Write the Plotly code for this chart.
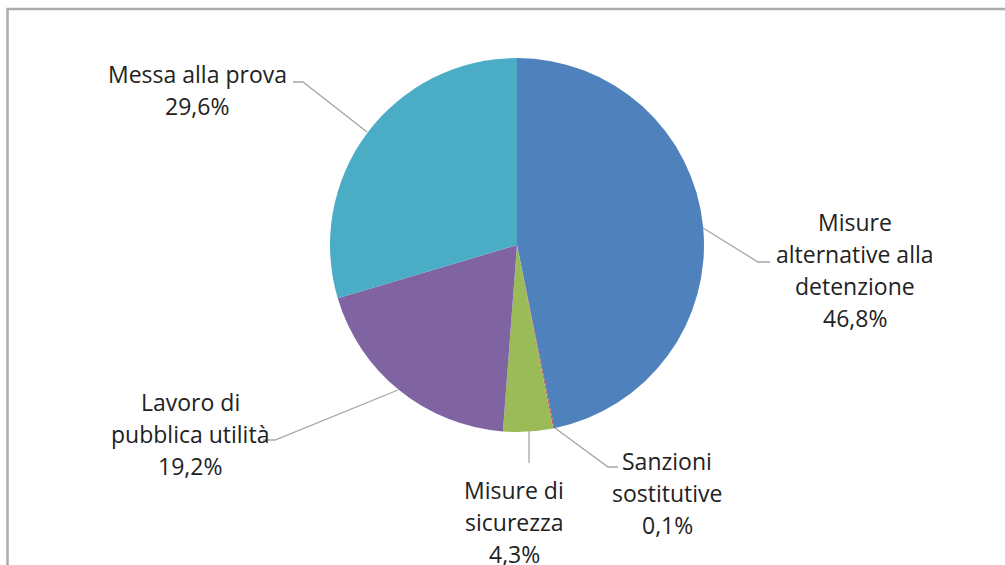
import plotly.graph_objects as go

# ---- data ----
categories = ["Misure alternative alla detenzione", "Sanzioni sostitutive",
              "Misure di sicurezza", "Lavoro di pubblica utilità", "Messa alla prova"]
values = [46.8, 0.1, 4.3, 19.2, 29.6]
label_lines = [["Misure", "alternative alla", "detenzione"],
               ["Sanzioni", "sostitutive"],
               ["Misure di", "sicurezza"],
               ["Lavoro di", "pubblica utilità"],
               ["Messa alla prova"]]
colors = ["#4F81BD", "#C0504D", "#9BBB59", "#8064A2", "#4BACC6"]

# ---- layout geometry (pixels) ----
W, H = 1005, 565
cx, cy, r = 517, 245, 187
# label centre x and first-line y for each category
label_pos = [(855, 222), (667, 461), (514, 490), (190, 402), (197, 74)]
line_gap = 32
# leader lines (pixel polylines)
leaders = [[(703, 228), (758, 262), (770, 262)],
           [(555, 428), (608, 467), (618, 467)],
           [(529, 431), (529, 463)],
           [(398, 390), (275, 440), (263, 440)],
           [(367, 132), (303, 82), (293, 82)]]

def px(x):
    return x / W

def py(y):
    return 1 - y / H

fig = go.Figure(go.Pie(
    labels=categories, values=values, sort=False, direction="clockwise",
    rotation=0, marker=dict(colors=colors, line=dict(width=0)),
    textinfo="none", hoverinfo="label+percent", showlegend=False,
    domain=dict(x=[px(cx - r), px(cx + r)], y=[py(cy + r), py(cy - r)]),
))

annotations = []
for lines, val, (lx, ly) in zip(label_lines, values, label_pos):
    all_lines = lines + [f"{val:.1f}".replace(".", ",") + "%"]
    for i, t in enumerate(all_lines):
        annotations.append(dict(
            x=px(lx), y=py(ly + i * line_gap), xref="paper", yref="paper",
            text=t, showarrow=False, xanchor="center", yanchor="middle",
            font=dict(family="'Open Sans', sans-serif", size=23, color="#222222"),
        ))

shapes = []
for pts in leaders:
    path = "M " + " L ".join(f"{px(x)},{py(y)}" for x, y in pts)
    shapes.append(dict(type="path", path=path, xref="paper", yref="paper",
                       line=dict(color="#A6A6A6", width=1.3)))
# chart frame
shapes.append(dict(type="rect", xref="paper", yref="paper",
                   x0=px(7.5), y0=py(9), x1=px(W + 10), y1=py(H + 10),
                   line=dict(color="#ABABAB", width=2.5)))

fig.update_layout(
    width=W, height=H, margin=dict(l=0, r=0, t=0, b=0),
    paper_bgcolor="white", plot_bgcolor="white",
    annotations=annotations, shapes=shapes,
)

fig.write_html("out.html", config={"displayModeBar": False},
               post_script="document.body.style.margin='0';")
